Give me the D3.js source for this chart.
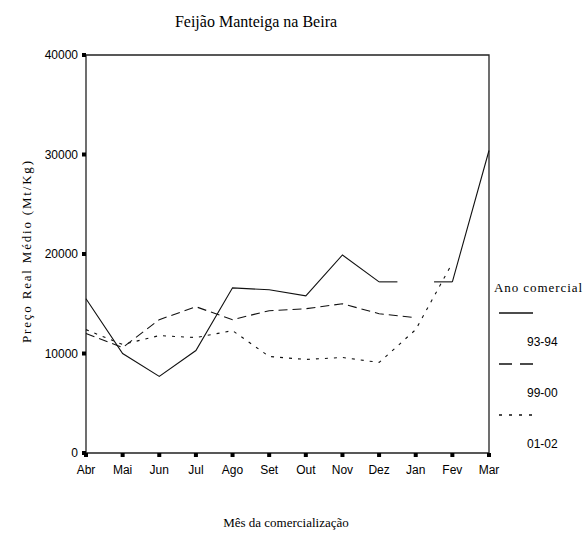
<!DOCTYPE html>
<html>
<head>
<meta charset="utf-8">
<script src="https://cdn.jsdelivr.net/npm/d3@7"></script>
<style>
	body { margin: 0; background: #fff; }
	svg { display: block; }
</style>
</head>
<body>
<div id="chart"></div>
<script>
var months = ["Abr", "Mai", "Jun", "Jul", "Ago", "Set", "Out", "Nov", "Dez", "Jan", "Fev", "Mar"];
var yTicks = [0, 10000, 20000, 30000, 40000];
var seriesNames = ["93-94", "99-00", "01-02"];
var s9394 = [15500, 10000, 7700, 10300, 16600, 16400, 15800, 19900, 17200, null, 17200, 30400];
var s9900 = [12000, 10600, 13400, 14700, 13400, 14300, 14500, 15000, 14000, 13600, null, null];
var s0102 = [12400, 10900, 11800, 11600, 12300, 9700, 9400, 9600, 9100, 12400, 19100, null];

var W = 583, H = 535;
var margin = {top: 55, left: 86, right: 94, bottom: 82};

var svg = d3.select("#chart")
	.append("svg")
		.attr("width", W)
		.attr("height", H);

var x = d3.scalePoint()
	.domain(months)
	.range([margin.left, W - margin.right]);

var y = d3.scaleLinear()
	.domain([0, 40000])
	.range([H - margin.bottom, margin.top]);

var serif = "'Liberation Serif', 'DejaVu Serif', serif",
	sans = "'Liberation Sans', Arial, sans-serif";

// title + axis titles
svg.append("text")
	.attr("x", 256)
	.attr("y", 27)
	.attr("text-anchor", "middle")
	.style("font-family", serif)
	.style("font-size", "16px")
	.text("Feijão Manteiga na Beira");

svg.append("text")
	.attr("transform", "translate(31," + 252 + ") rotate(-90)")
	.attr("text-anchor", "middle")
	.style("font-family", serif)
	.style("font-size", "13px")
	.attr("textLength", 182)
	.text("Preço Real Médio (Mt/Kg)");

svg.append("text")
	.attr("x", 286)
	.attr("y", 527)
	.attr("text-anchor", "middle")
	.style("font-family", serif)
	.style("font-size", "13px")
	.text("Mês da comercialização");

// frame: left, bottom, top, right
var x0 = x.range()[0], x1 = x.range()[1], y0 = y.range()[0], y1 = y.range()[1];
svg.append("path")
	.attr("d", "M" + x0 + "," + y1 + "V" + y0 + "H" + x1 + "V" + y1 + "H" + x0)
	.attr("fill", "none")
	.attr("stroke", "#222")
	.attr("stroke-width", 1.3);

// y axis ticks (little squares) and labels
var yAxis = svg.append("g").attr("class", "y-axis");
yAxis.selectAll("rect")
	.data(yTicks)
	.enter()
	.append("rect")
		.attr("x", x0 - 4)
		.attr("y", function(d) { return y(d) - 2; })
		.attr("width", 4)
		.attr("height", 4)
		.attr("fill", "#000");
yAxis.selectAll("text")
	.data(yTicks)
	.enter()
	.append("text")
		.attr("x", x0 - 8)
		.attr("y", function(d) { return y(d); })
		.attr("dy", "0.35em")
		.attr("text-anchor", "end")
		.style("font-family", sans)
		.style("font-size", "12px")
		.text(function(d) { return d; });

// x axis ticks and labels
var xAxis = svg.append("g").attr("class", "x-axis");
xAxis.selectAll("rect")
	.data(months)
	.enter()
	.append("rect")
		.attr("x", function(d) { return x(d) - 2; })
		.attr("y", y0)
		.attr("width", 4)
		.attr("height", 4)
		.attr("fill", "#000");
xAxis.selectAll("text")
	.data(months)
	.enter()
	.append("text")
		.attr("x", function(d) { return x(d); })
		.attr("y", y0 + 21)
		.attr("text-anchor", "middle")
		.style("font-family", sans)
		.style("font-size", "12px")
		.text(function(d) { return d; });

// series
var series = [
	{name: seriesNames[0], values: s9394, dash: null},
	{name: seriesNames[1], values: s9900, dash: "9,5"},
	{name: seriesNames[2], values: s0102, dash: "3,6"}
];

var line = d3.line()
	.defined(function(d) { return d.v !== null; })
	.x(function(d) { return x(d.m); })
	.y(function(d) { return y(d.v); });

var step = x.step();

series.forEach(function(s) {
	var pts = s.values.map(function(v, i) { return {m: months[i], v: v}; });
	var g = svg.append("g").attr("class", "series");
	g.append("path")
		.datum(pts)
		.attr("d", line)
		.attr("fill", "none")
		.attr("stroke", "#111")
		.attr("stroke-width", 1.1)
		.attr("stroke-dasharray", s.dash);
	// interior gaps get half-step stubs on each side
	pts.forEach(function(p, i) {
		if (p.v !== null || i === 0 || i === pts.length - 1) return;
		var prev = pts[i - 1], next = pts[i + 1];
		if (prev.v === null || next.v === null) return;
		[[x(prev.m), x(prev.m) + step / 2, prev.v], [x(next.m) - step / 2, x(next.m), next.v]].forEach(function(st) {
			g.append("line")
				.attr("x1", st[0])
				.attr("x2", st[1])
				.attr("y1", y(st[2]))
				.attr("y2", y(st[2]))
				.attr("stroke", "#111")
				.attr("stroke-width", 1.1)
				.attr("stroke-dasharray", s.dash);
		});
	});
});

// legend
var legend = svg.append("g").attr("class", "legend");
legend.append("text")
	.attr("x", 494)
	.attr("y", 292)
	.style("font-family", serif)
	.style("font-size", "13px")
	.attr("textLength", 88)
	.text("Ano comercial");

var legendItem = legend.selectAll("g.item")
	.data(series)
	.enter()
	.append("g")
		.attr("class", "item")
		.attr("transform", function(d, i) { return "translate(0," + (i * 51) + ")"; });

legendItem.append("line")
	.attr("x1", 499)
	.attr("x2", 533)
	.attr("y1", 313)
	.attr("y2", 313)
	.attr("stroke", "#111")
	.attr("stroke-width", 1.3)
	.attr("stroke-dasharray", function(d) { return d.dash === "9,5" ? "13,8" : d.dash === "3,6" ? "3,7" : null; });

legendItem.append("text")
	.attr("x", 527)
	.attr("y", 346)
	.style("font-family", sans)
	.style("font-size", "12px")
	.text(function(d) { return d.name; });
</script>
</body>
</html>
